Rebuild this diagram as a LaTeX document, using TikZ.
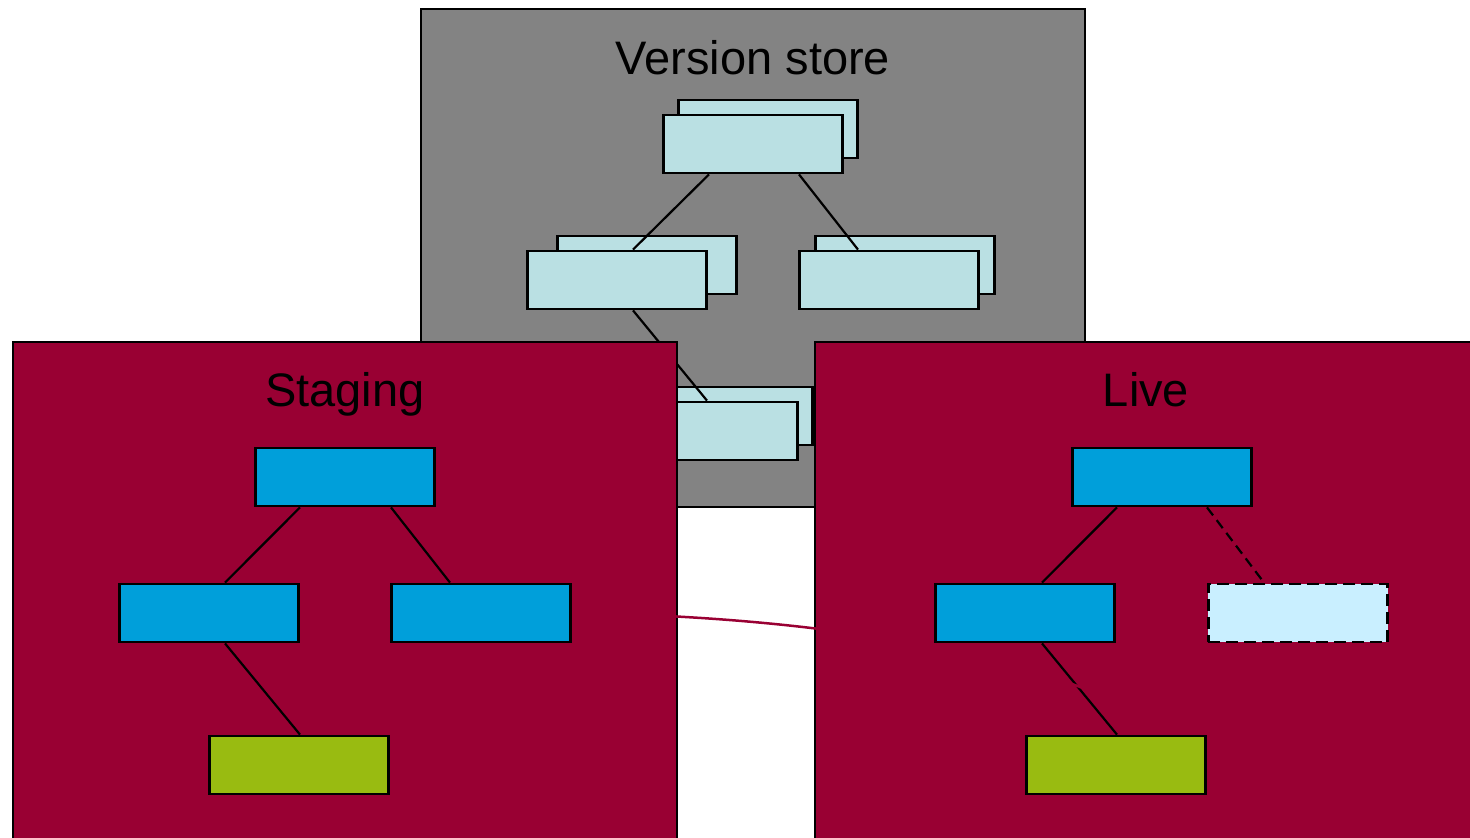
\documentclass[tikz,border=0pt]{standalone}
\usepackage{fontspec}
\setmainfont{Liberation Sans}
\usetikzlibrary{positioning}

\definecolor{storegray}{HTML}{838383}
\definecolor{panelred}{HTML}{990033}
\definecolor{versionblue}{HTML}{BAE0E3}
\definecolor{pageblue}{HTML}{009FDA}
\definecolor{leafgreen}{HTML}{99BB11}
\definecolor{ghostblue}{HTML}{C9EFFF}

\begin{document}
\begin{tikzpicture}[x=1pt, y=-1pt,
    panel/.style={draw, line width=2.8pt},
    box/.style={draw, line width=2.8pt, minimum width=179.5pt, minimum height=58pt, inner sep=0pt},
    vnode/.style={box, fill=versionblue},
    pnode/.style={box, fill=pageblue},
    leaf/.style={box, fill=leafgreen},
    ghost/.style={box, fill=ghostblue, dash pattern=on 12pt off 6pt},
    tree/.style={line width=2.2pt},
    title/.style={font=\fontsize{47}{56}\selectfont, anchor=base}]
    \useasboundingbox (0,0) rectangle (1470,838);
    \clip (0,0) rectangle (1470,838);

    % version store
    \draw[panel, fill=storegray] (421,9) rectangle (1085,507);
    \node[title] (vtitle) at (753,74) {Version store};
    \node[vnode] (vtopb) at (768,129) {};
    \node[vnode] (vtop) at (753,144) {};
    \node[vnode] (vleftb) at (647,265) {};
    \node[vnode] (vleft) at (617,280) {};
    \node[vnode] (vrightb) at (905,265) {};
    \node[vnode] (vright) at (889,280) {};
    \node[vnode] (vbotb) at (723,416) {};
    \node[vnode] (vbot) at (708,431) {};
    \path[tree]
      ([xshift=-44pt]vtop.south) edge ([xshift=16pt]vleft.north)
      ([xshift=46pt]vtop.south) edge ([xshift=-31pt]vright.north)
      ([xshift=16pt]vleft.south) edge ([xshift=-1pt]vbot.north)
    ;

    % staging and live
    \draw[panel, fill=panelred] (13,342) rectangle (677,860);
    \draw[panel, fill=panelred] (815,342) rectangle (1490,860);
    \node[title] (stitle) at (345,406) {Staging};
    \node[title] (ltitle) at (1146,406) {Live};

    \node[pnode] (stop) at (345,477) {};
    \node[pnode] (sleft) at (209,613) {};
    \node[pnode] (sright) at (481,613) {};
    \node[leaf] (sleaf) at (299,765) {};

    \node[pnode] (ltop) at (1162,477) {};
    \node[pnode] (lleft) at (1025,613) {};
    \node[ghost] (lright) at (1298,613) {};
    \node[leaf] (lleaf) at (1116,765) {};
    \coordinate (lend) at (1100,695);

    \path[tree]
      ([xshift=-45pt]stop.south) edge ([xshift=16pt]sleft.north)
      ([xshift=46pt]stop.south) edge ([xshift=-31pt]sright.north)
      ([xshift=16pt]sleft.south) edge ([xshift=1pt]sleaf.north)
      ([xshift=-45pt]ltop.south) edge ([xshift=17pt]lleft.north)
      ([xshift=45pt]ltop.south) edge [dash pattern=on 10pt off 6pt] ([xshift=-34pt]lright.north)
      ([xshift=17pt]lleft.south) edge ([xshift=1pt]lleaf.north)
    ;

    \draw[panelred, line width=2.5pt] (sright.east) .. controls (800,616) and (990,648) .. (lend);
\end{tikzpicture}
\end{document}
